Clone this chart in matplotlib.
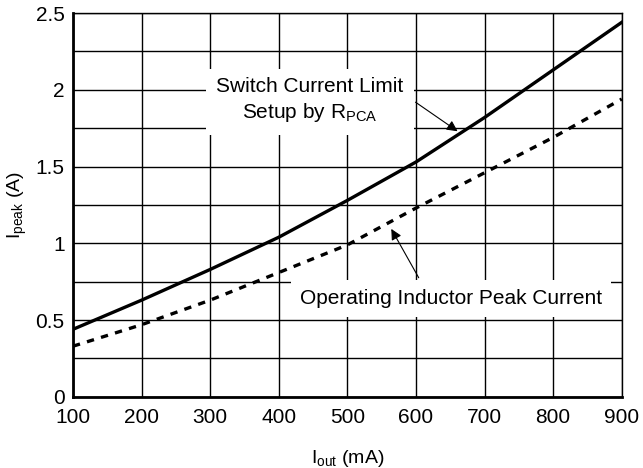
import matplotlib
matplotlib.use('Agg')
import matplotlib.pyplot as plt

plt.rcParams['font.family'] = ['Liberation Sans', 'DejaVu Sans']
plt.rcParams['mathtext.fontset'] = 'custom'
plt.rcParams['mathtext.rm'] = 'Liberation Sans'
plt.rcParams['mathtext.it'] = 'Liberation Sans'

# corrente de saida (mA)
i_out = [100, 200, 300, 400, 500, 600, 700, 800, 900]
# limite de corrente da chave (A)
limite_chave = [0.44, 0.63, 0.83, 1.04, 1.28, 1.53, 1.82, 2.13, 2.44]
# pico de corrente no indutor (A)
pico_indutor = [0.33, 0.47, 0.63, 0.81, 0.99, 1.23, 1.46, 1.69, 1.94]

x_ticks = [100, 200, 300, 400, 500, 600, 700, 800, 900]
y_ticks = [0, 0.5, 1, 1.5, 2, 2.5]
y_grid = [0, 0.25, 0.5, 0.75, 1, 1.25, 1.5, 1.75, 2, 2.25, 2.5]

fig = plt.figure(figsize=(6.43, 4.68), dpi=100)
ax = fig.add_axes([0.1135, 0.152, 0.8535, 0.820])

for yg in y_grid:
    ax.axhline(yg, color='black', linewidth=1.0, zorder=1)
for xg in x_ticks:
    ax.axvline(xg, color='black', linewidth=1.0, zorder=1)

ax.plot(i_out, limite_chave, color='black', linewidth=2.4, zorder=3)
ax.plot(i_out, pico_indutor, color='black', linewidth=2.4, linestyle=(0, (2.2, 2.2)), zorder=3)

ax.set_xlim(100, 900)
ax.set_ylim(0, 2.5)
ax.set_xticks(x_ticks)
ax.set_yticks(y_ticks)
ax.set_yticklabels(['0', '0.5', '1', '1.5', '2', '2.5'])
ax.tick_params(length=0, labelsize=15)
ax.tick_params(axis='x', pad=8)
ax.tick_params(axis='y', pad=6)

for lado in ['top', 'right']:
    ax.spines[lado].set_linewidth(1.0)
for lado in ['left', 'bottom']:
    ax.spines[lado].set_linewidth(2.0)

ax.set_xlabel(r'I$_{\rm out}$ (mA)', fontsize=14, labelpad=15)
ax.set_ylabel(r'I$_{\rm peak}$ (A)', fontsize=14, labelpad=5)

ax.text(445, 1.93, 'Switch Current Limit\nSetup by R$_{\\rm PCA}$', fontsize=15,
        ha='center', va='center', zorder=4, linespacing=1.3,
        bbox=dict(boxstyle='square,pad=0.5', facecolor='white', edgecolor='none'))
ax.annotate('', xy=(664, 1.72), xytext=(596, 1.93),
            arrowprops=dict(arrowstyle='-|>', color='black', lw=0.8, mutation_scale=16), zorder=5)

ax.text(651, 0.64, 'Operating Inductor Peak Current', fontsize=15,
        ha='center', va='center', zorder=4,
        bbox=dict(boxstyle='square,pad=0.45', facecolor='white', edgecolor='none'))
ax.annotate('', xy=(562, 1.11), xytext=(606, 0.76),
            arrowprops=dict(arrowstyle='-|>', color='black', lw=0.8, mutation_scale=16), zorder=5)

fig.savefig('out.png', dpi=100)
